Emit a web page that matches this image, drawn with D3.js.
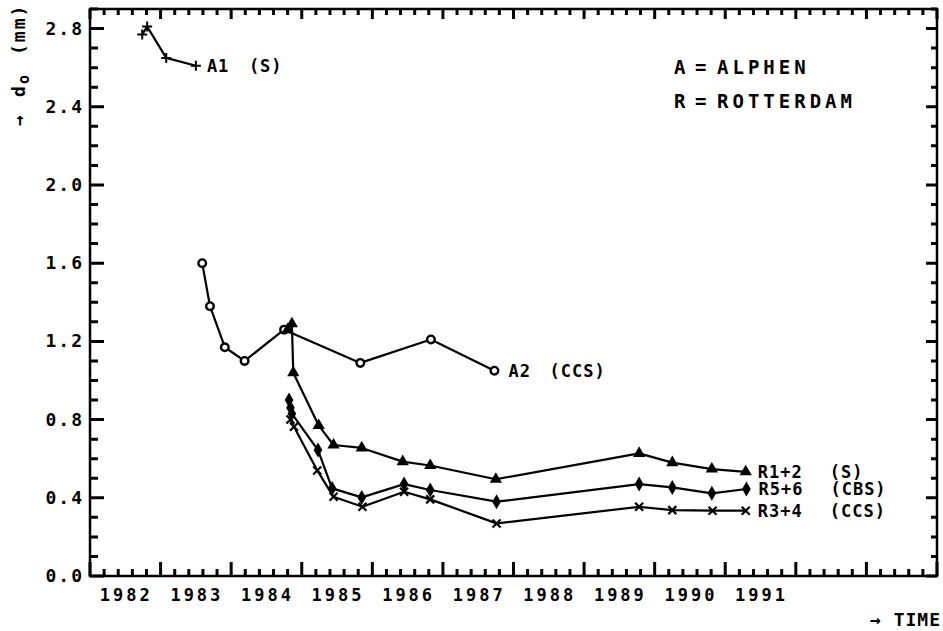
<!DOCTYPE html>
<html>
<head>
<meta charset="utf-8">
<script src="https://d3js.org/d3.v7.min.js"></script>
<style>
  body { margin: 0; background: #fff; }
  text { font-family: "DejaVu Sans Mono", monospace; font-weight: bold; fill: #000; }
</style>
</head>
<body>
<svg id="chart" width="943" height="631"></svg>
<script>
// values: [year, d0 in mm]
var a1 = [[1982.74, 2.77], [1982.81, 2.81], [1983.08, 2.65], [1983.50, 2.61]];
var a2 = [[1983.59, 1.60], [1983.70, 1.38], [1983.91, 1.17], [1984.19, 1.10],
          [1984.75, 1.26], [1985.83, 1.09], [1986.83, 1.21], [1987.73, 1.05]];
var r12 = [[1984.80, 1.26], [1984.86, 1.29], [1984.88, 1.04], [1985.24, 0.77], [1985.45, 0.67],
           [1985.85, 0.655], [1986.43, 0.585], [1986.82, 0.565], [1987.75, 0.495],
           [1989.78, 0.627], [1990.25, 0.58], [1990.81, 0.547], [1991.29, 0.533]];
var r56 = [[1984.82, 0.90], [1984.84, 0.86], [1984.86, 0.83], [1985.23, 0.644], [1985.43, 0.448],
           [1985.85, 0.402], [1986.45, 0.47], [1986.82, 0.44], [1987.76, 0.38],
           [1989.78, 0.47], [1990.25, 0.453], [1990.81, 0.423], [1991.30, 0.445]];
var r34 = [[1984.84, 0.80], [1984.89, 0.763], [1985.22, 0.54], [1985.45, 0.405], [1985.86, 0.354],
           [1986.45, 0.431], [1986.82, 0.392], [1987.76, 0.269],
           [1989.78, 0.354], [1990.25, 0.337], [1990.82, 0.334], [1991.29, 0.334]];
var yearLabels = [1982, 1983, 1984, 1985, 1986, 1987, 1988, 1989, 1990, 1991];
var yMajor = [0, 0.4, 0.8, 1.2, 1.6, 2.0, 2.4, 2.8];

var svg = d3.select("#chart");
var x = d3.scaleLinear([1982, 1994], [90, 937]);
var y = d3.scaleLinear([0, 2.9], [576, 9]);

var xMajor = d3.range(1982, 1995);
var xMinor = d3.range(0, 60).map(i => 1982 + i * 0.2).filter(v => Math.abs(v - Math.round(v)) > 0.01);
var yMinor = d3.range(0, 30).map(i => i * 0.1).filter(v => Math.abs(v * 2.5 - Math.round(v * 2.5)) > 0.01);

// inward ticks on all four sides, one path
var x0 = x.range()[0], x1 = x.range()[1], y0 = y.range()[0], y1 = y.range()[1];
var tp = d3.path();
function xTicks(vals, lb, lt) {
  vals.forEach(v => {
    tp.moveTo(x(v), y0); tp.lineTo(x(v), y0 - lb);
    tp.moveTo(x(v), y1); tp.lineTo(x(v), y1 + lt);
  });
}
function yTicks(vals, ll, lr) {
  vals.forEach(v => {
    tp.moveTo(x0, y(v)); tp.lineTo(x0 + ll, y(v));
    tp.moveTo(x1, y(v)); tp.lineTo(x1 - lr, y(v));
  });
}
xTicks(xMajor, 14, 10);
xTicks(xMinor, 7, 6);
yTicks(yMajor, 14, 11);
yTicks(yMinor, 8, 6);
svg.append("path").attr("d", tp.toString())
  .attr("fill", "none").attr("stroke", "#000").attr("stroke-width", 3);

svg.append("rect")
  .attr("x", x0).attr("y", y1)
  .attr("width", x1 - x0).attr("height", y0 - y1)
  .attr("fill", "none").attr("stroke", "#000").attr("stroke-width", 2.5);

// y tick labels
svg.append("g").selectAll("text").data(yMajor).join("text")
  .attr("x", x0 - 6).attr("y", d => y(d) + 6)
  .attr("text-anchor", "end")
  .style("font-size", "18px").style("letter-spacing", "2px")
  .text(d => d3.format(".1f")(d));

// year labels sit in the middle of each year
svg.append("g").selectAll("text").data(yearLabels).join("text")
  .attr("x", d => x(d + 0.5) + 1).attr("y", 601)
  .attr("text-anchor", "middle")
  .style("font-size", "17px").style("letter-spacing", "3px")
  .text(d => d);

svg.append("text").attr("x", 941).attr("y", 626).attr("text-anchor", "end")
  .style("font-size", "18px").style("letter-spacing", "1px").text("\u2192 TIME");

// rotated y title, read bottom to top
var yl = svg.append("text").attr("transform", "translate(25,126) rotate(-90)")
  .style("font-size", "18px");
yl.append("tspan").attr("x", 0).text("\u2192");
yl.append("tspan").attr("x", 29).text("d");
yl.append("tspan").attr("x", 42).attr("dy", 4).style("font-size", "15px").text("o");
yl.append("tspan").attr("x", 71).attr("dy", -4).style("letter-spacing", "2px").text("(mm)");

// lines
var line = d3.line().x(d => x(d[0])).y(d => y(d[1]));
[a1, a2, r12, r56, r34].forEach(s => {
  svg.append("path").attr("d", line(s)).attr("fill", "none")
    .attr("stroke", "#000").attr("stroke-width", 2.2).attr("stroke-linejoin", "round");
});

// markers
function markers(data, kind) {
  var g = svg.append("g").selectAll("g").data(data).join("g")
    .attr("transform", d => "translate(" + x(d[0]) + "," + y(d[1]) + ")");
  if (kind == "plus") {
    g.append("path").attr("d", "M-5,0H5M0,-5V5").attr("stroke", "#000").attr("stroke-width", 2);
  } else if (kind == "x") {
    g.append("path").attr("d", "M-4,-4L4,4M-4,4L4,-4").attr("stroke", "#000").attr("stroke-width", 2.2);
  } else if (kind == "circle") {
    g.append("circle").attr("r", 3.8).attr("fill", "#fff").attr("stroke", "#000").attr("stroke-width", 2.4);
  } else if (kind == "tri") {
    g.append("path").attr("d", d3.symbol(d3.symbolTriangle, 65)).attr("fill", "#000");
  } else if (kind == "diamond") {
    g.append("path").attr("d", d3.symbol(d3.symbolDiamond, 65)).attr("fill", "#000");
  }
}
markers(a1, "plus");
markers(a2, "circle");
markers(r12, "tri");
markers(r56, "diamond");
markers(r34, "x");

// series labels: name, then the type in a second column
function seriesLabel(s, name, kind, dx, gap) {
  var last = s[s.length - 1];
  var px = x(last[0]) + dx, py = y(last[1]) + 6;
  svg.append("text").attr("x", px).attr("y", py)
    .style("font-size", "17px").style("letter-spacing", "1px").text(name);
  svg.append("text").attr("x", px + gap).attr("y", py)
    .style("font-size", "17px").style("letter-spacing", "1px").text(kind);
}
seriesLabel(a1, "A1", "(S)", 11, 42);
seriesLabel(a2, "A2", "(CCS)", 14, 41);
seriesLabel(r12, "R1+2", "(S)", 12, 72);
seriesLabel(r56, "R5+6", "(CBS)", 12, 72);
seriesLabel(r34, "R3+4", "(CCS)", 12, 72);

// legend: letter, "=", place name
var legKeys = ["A", "R"];
var legNames = ["ALPHEN", "ROTTERDAM"];
var leg = svg.append("g").style("font-size", "19px");
leg.selectAll(".k").data(legKeys).join("text").attr("class", "k")
  .attr("x", 674).attr("y", (d, i) => 74 + i * 34).text(d => d);
leg.selectAll(".e").data(legKeys).join("text").attr("class", "e")
  .attr("x", 695).attr("y", (d, i) => 74 + i * 34).text("=");
leg.selectAll(".n").data(legNames).join("text").attr("class", "n")
  .attr("x", 717).attr("y", (d, i) => 74 + i * 34)
  .style("letter-spacing", "4px").text(d => d);
</script>
</body>
</html>
